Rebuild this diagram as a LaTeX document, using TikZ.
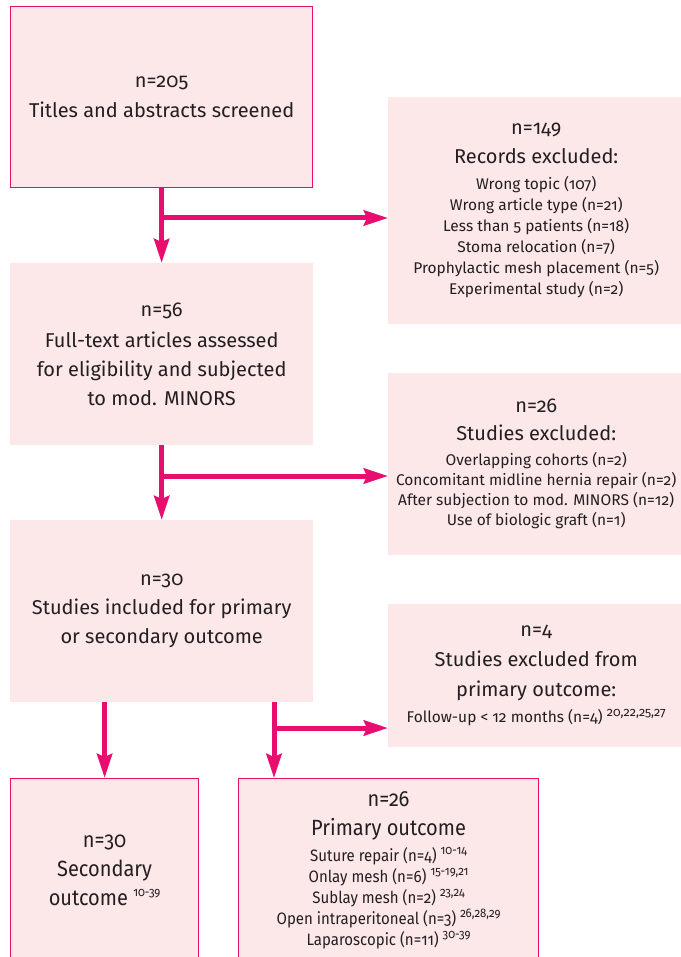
\documentclass[tikz,border=0pt]{standalone}
\usepackage{fontspec}
\setmainfont{Fira Sans}[Numbers=OldStyle]
\newfontfamily\condfont{Fira Sans}[Numbers=OldStyle,FakeStretch=0.91]
\usetikzlibrary{arrows.meta}
\definecolor{boxfill}{RGB}{252,231,233}
\definecolor{mag}{RGB}{232,14,112}
\definecolor{txt}{RGB}{35,31,32}
\newcommand{\szA}{\fontsize{20}{29}\selectfont}
\newcommand{\szB}{\fontsize{15.5}{21}\selectfont}
\newcommand{\szC}{\fontsize{22}{29}\selectfont}
\newcommand{\szD}{\fontsize{16.5}{21}\selectfont}
\newcommand{\refsup}[1]{\ \raisebox{0.42em}{\fontsize{12.5}{12.5}\selectfont #1}}
\tikzset{
  box/.style={fill=boxfill, inner sep=0pt, align=center, text=txt, font=\szA, anchor=north west},
  framed/.style={box, draw=mag, line width=1.2pt},
  flow/.style={draw=mag, line width=5pt},
  arr/.style={flow, -{Stealth[length=24pt,width=15pt,inset=3pt]}},
}
\begin{document}
\begin{tikzpicture}[x=1pt,y=-1pt]
\useasboundingbox (0,0) rectangle (680,957);
% boxes
\node[framed, minimum width=302pt, minimum height=181pt] (b1) at (10,6)
  {n=205\\[1pt]Titles and abstracts screened};
\node[box, minimum width=296pt, minimum height=227pt] (b3) at (388,97)
  {n=149\\Records excluded:\\[-3pt]
   {\szB Wrong topic (107)}\\[-8pt]
   {\szB Wrong article type (n=21)}\\[-8pt]
   {\szB Less than 5 patients (n=18)}\\[-8pt]
   {\szB Stoma relocation (n=7)}\\[-8pt]
   {\szB Prophylactic mesh placement (n=5)}\\[-8pt]
   {\szB Experimental study (n=2)}};
\node[box, minimum width=303pt, minimum height=182pt] (b2) at (10,263)
  {n=56\\[2pt]Full-text articles assessed\\for eligibility and subjected\\to mod. MINORS};
\node[box, minimum width=296pt, minimum height=182pt] (b4) at (388,373)
  {n=26\\[-1pt]Studies excluded:\\[-4pt]
   {\szB Overlapping cohorts (n=2)}\\[-9pt]
   {\szB Concomitant midline hernia repair (n=2)}\\[-9pt]
   {\szB After subjection to mod. MINORS (n=12)}\\[-9pt]
   {\szB Use of biologic graft (n=1)}};
\node[box, minimum width=303pt, minimum height=182pt] (b5) at (10,520)
  {n=30\\Studies included for primary\\or secondary outcome};
\node[box, minimum width=296pt, minimum height=143pt] (b6) at (388,604)
  {n=4\\[1pt]Studies excluded from\\[1pt]primary outcome:\\[-3pt]
   {\szB Follow-up < 12 months (n=4)\refsup{20,22,25,27}}};
\node[framed, font=\condfont\szC, minimum width=188pt, minimum height=184pt] (bl) at (10,778)
  {n=30\\Secondary\\outcome\refsup{10-39}};
\node[framed, font=\condfont\szC, minimum width=300pt, minimum height=184pt] (br) at (238,778)
  {n=26\\Primary outcome\\[-3pt]
   {\szD Suture repair (n=4)\refsup{10-14}}\\[-8pt]
   {\szD Onlay mesh (n=6)\refsup{15-19,21}}\\[-8pt]
   {\szD Sublay mesh (n=2)\refsup{23,24}}\\[-8pt]
   {\szD Open intraperitoneal (n=3)\refsup{26,28,29}}\\[-8pt]
   {\szD Laparoscopic (n=11)\refsup{30-39}}};
% junctions
\coordinate (j1) at (161,218);
\coordinate (j2) at (161,476);
\coordinate (s2) at (274,702);
\coordinate (j3) at (274,728);
% connectors
\draw[arr] (b1.south) -- (b1.south |- b2.north);
\draw[arr] (j1) -- (j1 -| b3.west);
\draw[arr] (b2.south) -- (b2.south |- b5.north);
\draw[arr] (j2) -- (j2 -| b4.west);
\draw[arr] (bl.north |- b5.south) -- (bl.north);
\draw[arr] (s2) -- (s2 |- br.north);
\draw[arr] (j3) -- (j3 -| b6.west);
\end{tikzpicture}
\end{document}
